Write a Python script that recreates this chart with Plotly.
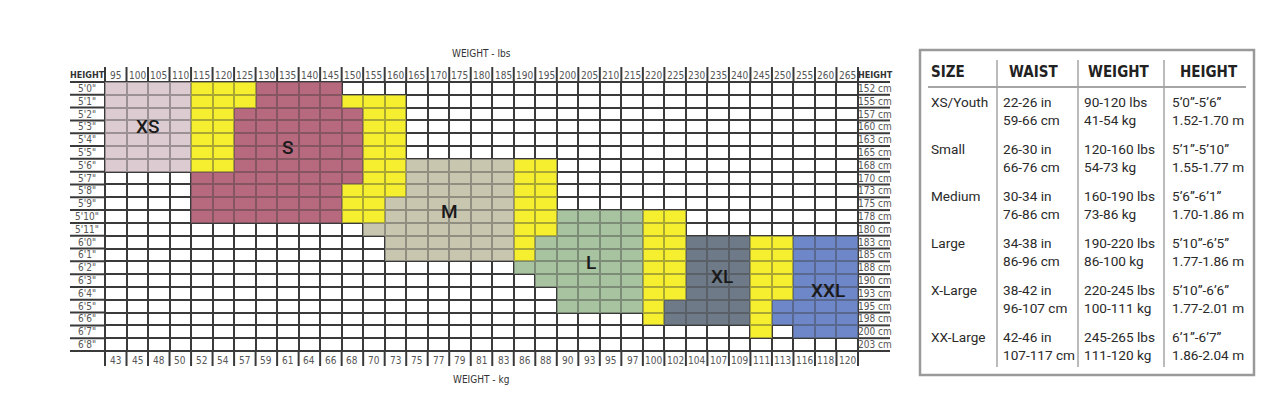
import plotly.graph_objects as go

# ---------------- data ----------------
weights_lbs = [95, 100, 105, 110, 115, 120, 125, 130, 135, 140, 145, 150, 155, 160, 165, 170, 175,
               180, 185, 190, 195, 200, 205, 210, 215, 220, 225, 230, 235, 240, 245, 250, 255, 260, 265]
weights_kg = [43, 45, 48, 50, 52, 54, 57, 59, 61, 64, 66, 68, 70, 73, 75, 77, 79, 81, 83, 86, 88,
              90, 93, 95, 97, 100, 102, 104, 107, 109, 111, 113, 116, 118, 120]
heights_ft = ["5'0\"", "5'1\"", "5'2\"", "5'3\"", "5'4\"", "5'5\"", "5'6\"", "5'7\"", "5'8\"", "5'9\"",
              "5'10\"", "5'11\"", "6'0\"", "6'1\"", "6'2\"", "6'3\"", "6'4\"", "6'5\"", "6'6\"",
              "6'7\"", "6'8\""]
heights_cm = ["152 cm", "155 cm", "157 cm", "160 cm", "163 cm", "165 cm", "168 cm", "170 cm", "173 cm",
              "175 cm", "178 cm", "180 cm", "183 cm", "185 cm", "188 cm", "190 cm", "193 cm", "195 cm",
              "198 cm", "200 cm", "203 cm"]

# one string per height row, one character per weight column (trailing cells are empty)
# . = none, a = XS, s = S, y = overlap (yellow), m = M, l = L, k = XL, z = XXL
size_grid = [
    "aaaayyyssss",
    "aaaayyyssssyyy",
    "aaaayyssssssyy",
    "aaaayyssssssyy",
    "aaaayyssssssyy",
    "aaaayyssssssyy",
    "aaaayyssssssyymmmmmyy",
    "....ssssssssyymmmmmyy",
    "....sssssssyyymmmmmyy",
    "....sssssssyymmmmmmyy",
    "....sssssssyymmmmmmyyllllyy",
    "............mmmmmmmyyllllyy",
    ".............mmmmmmylllllyykkkyyzzz",
    ".............mmmmmmylllllyykkkyyzzz",
    "...................llllllyykkkyyzzz",
    "....................lllllyykkkyyzzz",
    ".....................llllyykkkyyzzz",
    ".....................llllykkkkyzzzz",
    ".........................ykkkkyzzzz",
    "..............................y.zzz",
    "",
]
size_codes = [".", "a", "s", "y", "m", "l", "k", "z"]
size_names = ["XS", "S", "M", "L", "XL", "XXL"]

table_header = ["SIZE", "WAIST", "WEIGHT", "HEIGHT"]
table_size = ["XS/Youth", "Small", "Medium", "Large", "X-Large", "XX-Large"]
table_waist = [("22-26 in", "59-66 cm"), ("26-30 in", "66-76 cm"), ("30-34 in", "76-86 cm"),
               ("34-38 in", "86-96 cm"), ("38-42 in", "96-107 cm"), ("42-46 in", "107-117 cm")]
table_weight = [("90-120 lbs", "41-54 kg"), ("120-160 lbs", "54-73 kg"), ("160-190 lbs", "73-86 kg"),
                ("190-220 lbs", "86-100 kg"), ("220-245 lbs", "100-111 kg"), ("245-265 lbs", "111-120 kg")]
table_height = [("5’0”-5’6”", "1.52-1.70 m"), ("5’1”-5’10”", "1.55-1.77 m"), ("5’6”-6’1”", "1.70-1.86 m"),
                ("5’10”-6’5”", "1.77-1.86 m"), ("5’10”-6’6”", "1.77-2.01 m"), ("6’1”-6’7”", "1.86-2.04 m")]

# ---------------- styles / layout ----------------
size_colors = ["#ffffff", "#dccbd0", "#b76a7e", "#f6ef30", "#c9c6af", "#a9c3a0", "#6f7b88", "#6e87c8"]
label_pos = [(1.5, 3.0), (8.0, 4.6), (15.5, 9.6), (22.1, 13.6), (28.2, 14.7), (33.1, 15.8)]
GRIDLINE = "#3a3a3a"
NARROW = "Liberation Sans Narrow, DejaVu Sans Condensed, Arial Narrow, sans-serif"
TFONT = "Roboto, Lato, sans-serif"

W, H = 1280, 402
GL, GR, GT, GB = 105, 858, 82, 351
ncol, nrow = len(weights_lbs), len(heights_ft)
sx = (GR - GL) / ncol
sy = (GB - GT) / nrow


def dx(px):
    return -0.5 + (px - GL) / sx


def dy(py):
    return -0.5 + (py - GT) / sy


def pxp(px):
    return px / W


def pyp(py):
    return 1 - py / H


rows = [r.ljust(ncol, ".") for r in size_grid]
assert all(len(r) == ncol for r in rows)
z = [[size_codes.index(c) for c in r] for r in rows]
z_col = [[(v if v > 0 else None) for v in r] for r in z]
cscale = [[i / (len(size_colors) - 1), c] for i, c in enumerate(size_colors)]

fig = go.Figure()
fig.add_trace(go.Heatmap(z=z, x=list(range(ncol)), y=list(range(nrow)), colorscale=cscale,
                         zmin=0, zmax=len(size_colors) - 1, showscale=False, xgap=2, ygap=2,
                         hoverinfo="skip"))
fig.add_trace(go.Heatmap(z=z_col, x=list(range(ncol)), y=list(range(nrow)), colorscale=cscale,
                         zmin=0, zmax=len(size_colors) - 1, showscale=False, opacity=0.6,
                         hoverinfo="skip"))

# header / footer separators and row-label underlines
lx, ly = [], []
for k in range(ncol + 1):
    x = k - 0.5
    lx += [x, x, None, x, x, None]
    ly += [dy(67), -0.5, None, nrow - 0.5, dy(366), None]
for r in range(nrow + 1):
    y = r - 0.5
    lx += [dx(70), -0.5, None, ncol - 0.5, dx(890), None]
    ly += [y, y, None, y, y, None]
fig.add_trace(go.Scatter(x=lx, y=ly, mode="lines", line=dict(color=GRIDLINE, width=2),
                         hoverinfo="skip", showlegend=False))

shapes = [dict(type="rect", xref="x", yref="y", x0=-0.5, x1=ncol - 0.5, y0=-0.5, y1=nrow - 0.5,
               fillcolor=GRIDLINE, line=dict(color=GRIDLINE, width=2), layer="below")]

ann = []
lab_font = dict(family=NARROW, size=10, color="#555555")
head_font = dict(family=NARROW, size=9, color="#333333", weight="bold")
for i, w in enumerate(weights_lbs):
    ann.append(dict(x=i, y=dy(75), text=str(w), font=lab_font))
for i, w in enumerate(weights_kg):
    ann.append(dict(x=i, y=dy(360), text=str(w), font=lab_font))
for r, (ft, cm) in enumerate(zip(heights_ft, heights_cm)):
    ann.append(dict(x=dx(87), y=r, text=ft, font=lab_font))
    ann.append(dict(x=dx(875), y=r, text=cm, font=lab_font))
ann.append(dict(x=dx(87), y=dy(75), text="HEIGHT", font=head_font))
ann.append(dict(x=dx(875), y=dy(75), text="HEIGHT", font=head_font))
ann.append(dict(x=dx(481), y=dy(53), text="WEIGHT - lbs", font=dict(family=NARROW, size=10, color="#333333")))
ann.append(dict(x=dx(481), y=dy(379), text="WEIGHT - kg", font=dict(family=NARROW, size=10, color="#333333")))
for name, (px_, py_) in zip(size_names, label_pos):
    ann.append(dict(x=px_, y=py_, text=name,
                    font=dict(family="Roboto, Liberation Sans, sans-serif", size=19, color="#1a1a1a",
                              weight=500)))
for a in ann:
    a.update(xref="x", yref="y", showarrow=False, xanchor="center", yanchor="middle")

# ---------------- size table ----------------
tcol = "#a5a5a5"
shapes.append(dict(type="rect", xref="paper", yref="paper", x0=pxp(920), x1=pxp(1254),
                   y0=pyp(375), y1=pyp(50), line=dict(color="#9a9a9a", width=2.5), fillcolor="white"))
shapes.append(dict(type="line", xref="paper", yref="paper", x0=pxp(928), x1=pxp(1246),
                   y0=pyp(87), y1=pyp(87), line=dict(color=tcol, width=2)))
for vx in (997, 1078, 1164):
    shapes.append(dict(type="line", xref="paper", yref="paper", x0=pxp(vx), x1=pxp(vx),
                       y0=pyp(60), y1=pyp(367), line=dict(color=tcol, width=1.5)))

hfont = dict(family=NARROW, size=15, color="#222222", weight="bold")
for txt, hx, anchor in zip(table_header, (929, 1033, 1118, 1209), ("left", "center", "center", "center")):
    ann.append(dict(xref="paper", yref="paper", x=pxp(hx), y=pyp(72), text=txt, font=hfont,
                    showarrow=False, xanchor=anchor, yanchor="middle"))
cfont = dict(family=TFONT, size=13.6, color="#2a2a2a")
for i in range(len(table_size)):
    y1, y2 = 102 + 47 * i, 120 + 47 * i
    ann.append(dict(xref="paper", yref="paper", x=pxp(929), y=pyp(y1), text=table_size[i], font=cfont,
                    showarrow=False, xanchor="left", yanchor="middle"))
    for col_x, pair in zip((1001, 1082, 1170), (table_waist[i], table_weight[i], table_height[i])):
        for yy, t in zip((y1, y2), pair):
            ann.append(dict(xref="paper", yref="paper", x=pxp(col_x), y=pyp(yy), text=t, font=cfont,
                            showarrow=False, xanchor="left", yanchor="middle"))

fig.update_layout(
    width=W, height=H, margin=dict(l=0, r=0, t=0, b=0),
    paper_bgcolor="white", plot_bgcolor="white", showlegend=False,
    xaxis=dict(domain=[0, 1], range=[dx(0), dx(W)], visible=False, fixedrange=True),
    yaxis=dict(domain=[0, 1], range=[dy(H), dy(0)], visible=False, fixedrange=True),
    shapes=shapes, annotations=ann,
)
fig.write_html("out.html")
